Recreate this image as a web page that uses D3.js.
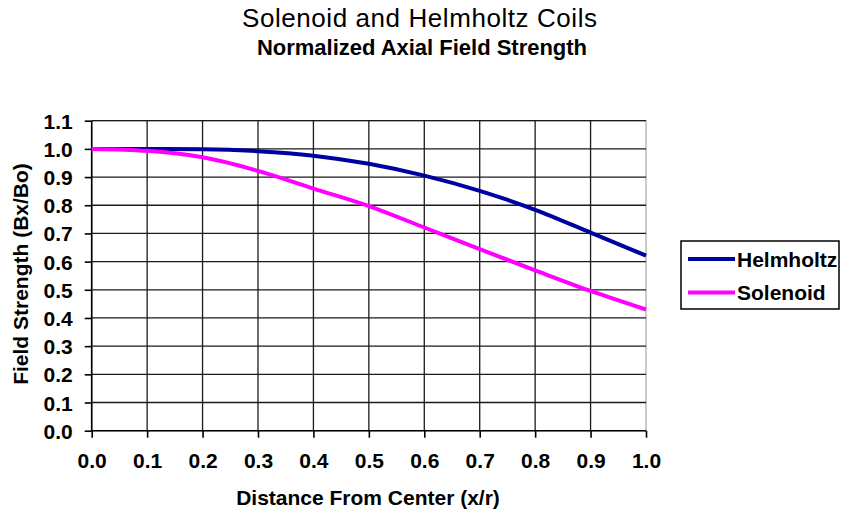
<!DOCTYPE html>
<html><head><meta charset="utf-8">
<script src="https://cdn.jsdelivr.net/npm/d3@7"></script>
<style>body{margin:0;background:#fff}svg{display:block}text{font-family:"Liberation Sans",Arial,sans-serif}</style>
</head><body>
<svg id="c" width="841" height="513"></svg>
<script>
const xValues = [0.0, 0.1, 0.2, 0.3, 0.4, 0.5, 0.6, 0.7, 0.8, 0.9, 1.0];
const helmholtz = [1.000, 1.000, 0.999, 0.992, 0.976, 0.947, 0.905, 0.851, 0.784, 0.703, 0.621];
const solenoid  = [1.000, 0.993, 0.970, 0.922, 0.859, 0.797, 0.721, 0.644, 0.569, 0.496, 0.430];
const seriesNames = ["Helmholtz", "Solenoid"];
const seriesColors = ["#0000A0", "#FF00FF"];
const xTicks = [0.0,0.1,0.2,0.3,0.4,0.5,0.6,0.7,0.8,0.9,1.0];
const yTicks = [0.0,0.1,0.2,0.3,0.4,0.5,0.6,0.7,0.8,0.9,1.0,1.1];
const title = "Solenoid and Helmholtz Coils";
const subtitle = "Normalized Axial Field Strength";
const xTitle = "Distance From Center (x/r)";
const yTitle = "Field Strength (Bx/Bo)";

const svg = d3.select("#c");
const L = 91.7, R = 646, T = 120.7, B = 430.7;
const x = d3.scaleLinear().domain([0,1]).range([L,R]);
const y = d3.scaleLinear().domain([0,1.1]).range([B,T]);

// plot border
svg.append("rect").attr("x",L).attr("y",T).attr("width",R-L).attr("height",B-T)
  .attr("fill","none").attr("stroke","#b8b8b8").attr("stroke-width",1.5);

// gridlines
const g = svg.append("g");
g.selectAll("line.h").data(yTicks.filter(d=>d>0)).join("line")
  .attr("x1",L).attr("x2",R).attr("y1",d=>y(d)).attr("y2",d=>y(d))
  .attr("stroke","#1a1a1a").attr("stroke-width",1.3);
g.selectAll("line.v").data(xTicks.filter(d=>d>0 && d<1)).join("line")
  .attr("y1",T).attr("y2",B).attr("x1",d=>x(d)).attr("x2",d=>x(d))
  .attr("stroke","#1a1a1a").attr("stroke-width",1.3);

// axes
const yAxis = d3.axisLeft(y).tickValues(yTicks).tickSize(7).tickPadding(12).tickFormat(d3.format(".1f"));
const xAxis = d3.axisBottom(x).tickValues(xTicks).tickSize(7).tickPadding(14).tickFormat(d3.format(".1f"));
const ya = svg.append("g").attr("transform",`translate(${L},0)`).call(yAxis);
const xa = svg.append("g").attr("transform",`translate(0,${B})`).call(xAxis);
[ya,xa].forEach(a=>{
  a.select(".domain").attr("stroke","#000").attr("stroke-width",1.6);
  a.selectAll(".tick line").attr("stroke","#000").attr("stroke-width",1.6);
  a.selectAll(".tick text").attr("fill","#000").style("font-size","21px").style("font-weight","bold")
   .style("font-family",'"Liberation Sans",Arial,sans-serif');
});
ya.select(".domain").attr("d",`M0,${B}V${T}`);
xa.select(".domain").attr("d",`M${L},0H${R}`);
ya.selectAll(".tick text").attr("x",-19).attr("dy","0.36em");
xa.selectAll(".tick text").attr("y",22).attr("dy","0.71em");

// lines
const line = d3.line().x((d,i)=>x(xValues[i])).y(d=>y(d)).curve(d3.curveMonotoneX);
[helmholtz, solenoid].forEach((s,i)=>{
  svg.append("path").datum(s).attr("d",line).attr("fill","none")
    .attr("stroke",seriesColors[i]).attr("stroke-width",4);
});

// titles
svg.append("text").attr("x",242).attr("y",27)
  .attr("textLength",355).attr("lengthAdjust","spacing")
  .style("font-size","26px").text(title);
svg.append("text").attr("x",257).attr("y",55)
  .attr("textLength",330).attr("lengthAdjust","spacing")
  .style("font-size","22px").style("font-weight","bold").text(subtitle);
svg.append("text").attr("x",368).attr("y",505).attr("text-anchor","middle")
  .style("font-size","21px").style("font-weight","bold").text(xTitle);
svg.append("text").attr("transform","translate(28,274) rotate(-90)").attr("text-anchor","middle")
  .style("font-size","21px").style("font-weight","bold").text(yTitle);

// legend
const lg = svg.append("g");
lg.append("rect").attr("x",681).attr("y",241).attr("width",158).attr("height",68)
  .attr("fill","#fff").attr("stroke","#000").attr("stroke-width",1.5);
seriesNames.forEach((n,i)=>{
  const yy = 259 + i*33.5;
  lg.append("line").attr("x1",688).attr("x2",735).attr("y1",yy).attr("y2",yy)
    .attr("stroke",seriesColors[i]).attr("stroke-width",4);
  lg.append("text").attr("x",737).attr("y",yy+7.5).style("font-size","21px")
    .style("font-weight","bold").text(n);
});
</script>
</body></html>
